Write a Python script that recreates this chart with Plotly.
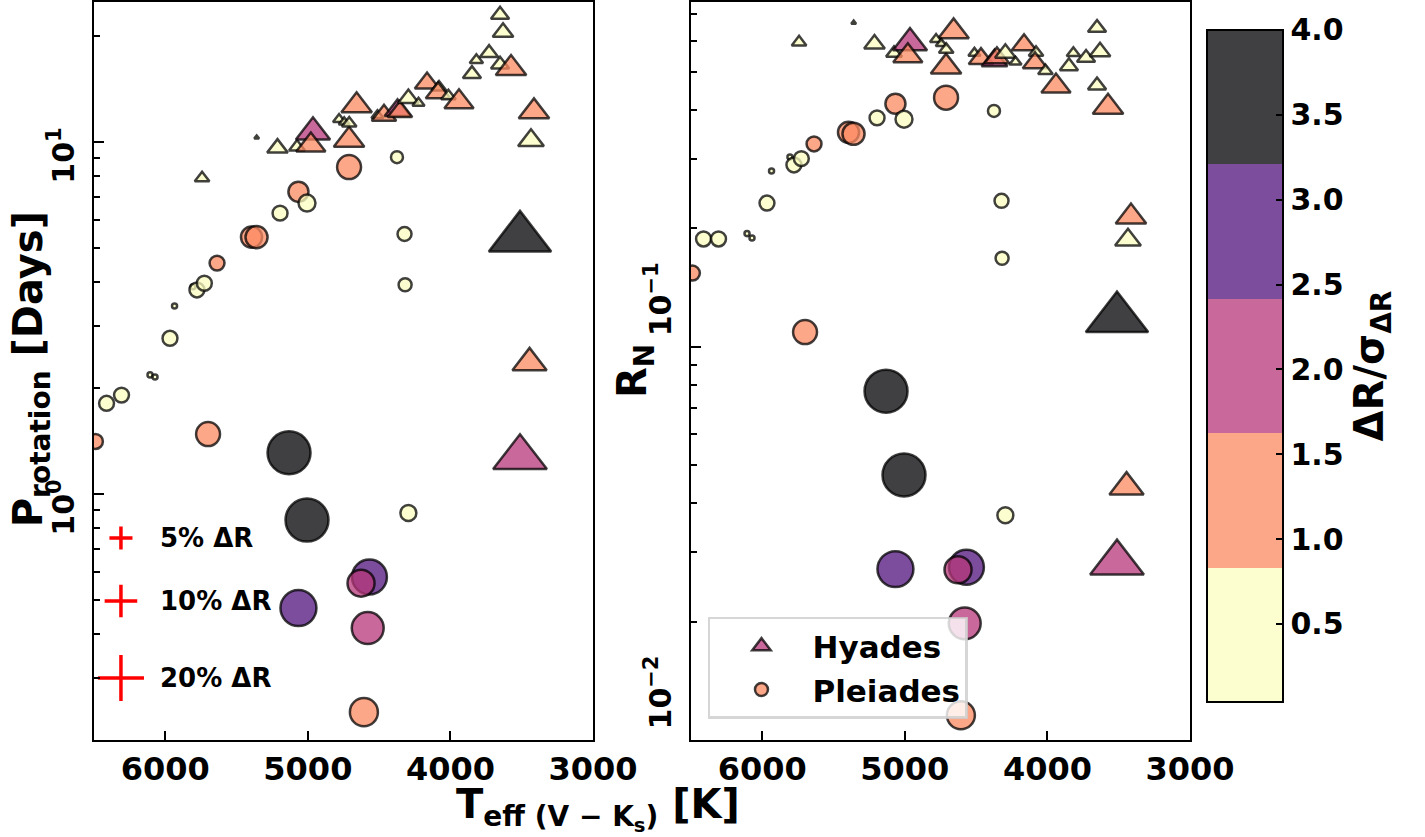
import numpy as np
import plotly.graph_objects as go

# ---------------- data ----------------
# Hyades (triangles)
hy_teff = [5742, 5359, 5213, 5076, 4964, 4979, 4711, 4658, 4781, 4745, 4710, 4512, 4466, 4371,
           4354, 4295, 4224, 4164, 4080, 4087, 4014, 3940, 3849, 3818, 3729, 3652, 3631, 3652,
           3575, 3414, 3435, 3512, 3445, 3512]
hy_prot = [7.90, 10.3, 9.61, 9.68, 10.67, 9.80, 10.13, 12.7, 11.6, 11.4, 11.3, 11.9, 11.9, 12.3,
           12.2, 13.3, 12.9, 14.7, 14.3, 13.8, 13.5, 13.0, 15.6, 17.1, 17.9, 23.0, 20.5, 16.6,
           16.2, 12.2, 10.1, 5.34, 2.36, 1.27]
hy_ross = [0.595, 0.667, 0.589, 0.558, 0.593, 0.549, 0.515, 0.633, 0.605, 0.59, 0.57, 0.558, 0.54, 0.534,
           0.543, 0.558, 0.53, 0.586, 0.56, 0.527, 0.503, 0.460, 0.517, 0.558, 0.543, 0.647, 0.563, 0.462,
           0.407, 0.214, 0.187, 0.118, 0.0440, 0.0282]
hy_dr = [1.36, 0.15, 2.7, 1.6, 7.4, 5.4, 5.9, 5.9, 0.94, 0.76, 1.36, 0.94, 3.8, 4.2,
         3.8, 2.7, 0.94, 3.8, 1.36, 3.8, 1.36, 5.4, 2.1, 1.14, 2.1, 2.1, 2.7, 2.1,
         5.9, 5.9, 4.2, 24.5, 7.4, 18.2]
hy_sig = [0.42, 0.35, 0.45, 0.38, 2.05, 1.30, 1.20, 1.25, 0.40, 0.35, 0.45, 0.40, 1.20, 2.00,
          1.25, 0.40, 0.35, 1.20, 0.40, 1.30, 0.45, 1.20, 0.40, 0.35, 0.45, 0.40, 0.40, 0.45,
          1.20, 1.25, 0.40, 4.00, 1.30, 2.10]

# Pleiades (circles)
pl_teff = [6490, 6412, 6307, 6107, 6072, 5967, 5935, 5806, 5778, 5726, 5637, 5395, 5360, 5195,
           5066, 5006, 4711, 4375, 4322, 4318, 4295, 5700, 5132, 5006, 5066, 4568, 4627, 4580, 4607]
pl_prot = [1.41, 1.81, 1.91, 2.18, 2.15, 2.77, 3.42, 3.88, 3.80, 3.97, 4.53, 5.37, 5.37, 6.28,
           7.22, 6.71, 8.49, 9.06, 5.48, 3.93, 0.883, 1.48, 1.31, 0.843, 0.474, 0.581, 0.558, 0.416, 0.240]
pl_ross = [0.154, 0.188, 0.188, 0.194, 0.189, 0.232, 0.280, 0.304, 0.290, 0.301, 0.328, 0.351, 0.348, 0.382,
           0.415, 0.379, 0.430, 0.398, 0.235, 0.168, 0.0373, 0.109, 0.0771, 0.0472, 0.0272, 0.0275, 0.0271,
           0.0198, 0.01156]
pl_dr = [2.1, 2.1, 2.1, 0.24, 0.24, 2.1, 0.24, 0.24, 2.1, 2.1, 2.1, 4.2, 4.6, 2.1,
         3.8, 2.7, 5.4, 1.36, 1.85, 1.6, 2.4, 5.4, 17.4, 17.4, 12.2, 11.5, 6.9, 9.6, 7.4]
pl_sig = [1.20, 0.40, 0.35, 0.30, 0.30, 0.40, 0.30, 0.30, 0.35, 0.40, 1.20, 1.30, 1.30, 0.40,
          1.20, 0.40, 1.20, 0.40, 0.40, 0.40, 0.40, 1.20, 3.70, 3.90, 2.80, 2.90, 2.00, 2.10, 1.30]

key_pcts = [5, 10, 20]
key_labels = ["5% ΔR", "10% ΔR", "20% ΔR"]

cbar_ticks = [0.5, 1.0, 1.5, 2.0, 2.5, 3.0, 3.5, 4.0]
sig_min, sig_max = 0.04, 4.0

# ---------------- styling ----------------
FONT = "DejaVu Sans"
bins = ["rgba(252,253,191,0.75)", "rgba(252,137,97,0.75)", "rgba(183,55,121,0.75)",
        "rgba(81,18,124,0.75)", "rgba(0,0,4,0.75)"]
cscale = []
for i, c in enumerate(bins):
    cscale.append([i / 5, c])
    cscale.append([(i + 1) / 5, c])

SIZE_K = 10.3  # px diameter per sqrt(%)
edge = dict(color="rgba(0,0,0,0.75)", width=2.5)


def sizes(dr, fac=1.0):
    return [fac * SIZE_K * np.sqrt(v) for v in dr]


fig = go.Figure()

for xa, ya, hy_y, pl_y in [("x", "y", hy_prot, pl_prot), ("x2", "y2", hy_ross, pl_ross)]:
    fig.add_trace(go.Scatter(
        x=hy_teff, y=hy_y, mode="markers", xaxis=xa, yaxis=ya, showlegend=False,
        marker=dict(symbol="triangle-up", size=sizes(hy_dr, 1.06), color=hy_sig, opacity=1,
                    coloraxis="coloraxis", line=edge)))
    fig.add_trace(go.Scatter(
        x=pl_teff, y=pl_y, mode="markers", xaxis=xa, yaxis=ya, showlegend=False,
        marker=dict(symbol="circle", size=sizes(pl_dr), color=pl_sig, opacity=1,
                    coloraxis="coloraxis", line=edge)))

# legend entries
fig.add_trace(go.Scatter(x=[None], y=[None], mode="markers", name="Hyades", xaxis="x2", yaxis="y2",
                         marker=dict(symbol="triangle-up", size=16, color=bins[2], opacity=1, line=edge)))
fig.add_trace(go.Scatter(x=[None], y=[None], mode="markers", name="Pleiades", xaxis="x2", yaxis="y2",
                         marker=dict(symbol="circle", size=13, color=bins[1], opacity=1, line=edge)))

# size key (left panel), in a 0-1 overlay frame
key_x = 0.054
key_y = [0.2737, 0.1883, 0.084]
fig.add_trace(go.Scatter(
    x=[key_x] * len(key_pcts), y=key_y, mode="markers", xaxis="x3", yaxis="y3", showlegend=False,
    marker=dict(symbol="cross-thin", size=[SIZE_K * np.sqrt(p) / 1.4 for p in key_pcts], opacity=1,
                line=dict(color="red", width=3.5), color="red")))

annotations = []
for lab, yy in zip(key_labels, key_y):
    annotations.append(dict(text=lab, x=0.128, y=yy, xref="x3", yref="y3", xanchor="left",
                            yanchor="middle", showarrow=False,
                            font=dict(family=FONT, size=26, color="black", weight="bold")))

# axis titles
title_font = dict(family=FONT, size=40, color="black", weight="bold")
annotations.append(dict(text="T<sub>eff (V − K<sub>s</sub>)</sub> [K]", x=0.46, y=-0.094,
                        xref="paper", yref="paper", xanchor="center", yanchor="middle",
                        showarrow=False, font=title_font))
annotations.append(dict(text="P<sub>rotation</sub> [Days]", x=-0.058, y=0.503, xref="paper",
                        yref="paper", xanchor="center", yanchor="middle", textangle=-90,
                        showarrow=False, font=title_font))
annotations.append(dict(text="R<sub>N</sub>", x=0.4936, y=0.50, xref="paper", yref="paper",
                        xanchor="center", yanchor="middle", textangle=-90,
                        showarrow=False, font=title_font))

tick_font = dict(family=FONT, size=30, color="black", weight="bold")
xtick_font = dict(family=FONT, size=32, color="black", weight="bold")

common_x = dict(range=[6500, 3000], tickvals=[6000, 5000, 4000, 3000], ticks="inside", ticklen=9,
                tickwidth=2, tickcolor="black", showline=True, linewidth=2, linecolor="black",
                mirror=True, showgrid=False, zeroline=False, tickfont=xtick_font)

def yax(lo, hi, major, major_txt, minor_vals, shift):
    return dict(type="log", range=[np.log10(lo), np.log10(hi)], tickmode="array", tickvals=major,
                ticktext=major_txt, tickangle=-90, ticks="inside", ticklen=10, tickwidth=2,
                tickcolor="black", showline=True, linewidth=2, linecolor="black", mirror=True,
                showgrid=False, zeroline=False, tickfont=tick_font, ticklabelshift=shift,
                ticklabelstandoff=6,
                minor=dict(tickmode="array", tickvals=minor_vals, ticks="inside", ticklen=6,
                           tickwidth=1.5, tickcolor="black", showgrid=False))

left_minor = [0.2, 0.3, 0.4, 0.5, 0.6, 0.7, 0.8, 0.9, 2, 3, 4, 5, 6, 7, 8, 9, 20]
right_minor = [0.02, 0.03, 0.04, 0.05, 0.06, 0.07, 0.08, 0.09, 0.2, 0.3, 0.4, 0.5, 0.6, 0.7]

fig.update_layout(
    width=1425, height=837,
    margin=dict(l=94, r=235, t=2, b=97, autoexpand=False),
    paper_bgcolor="white", plot_bgcolor="white",
    xaxis=dict(domain=[0, 0.4553], anchor="y", **common_x),
    xaxis2=dict(domain=[0.5447, 1], anchor="y2", **common_x),
    yaxis=dict(anchor="x", **yax(0.2, 25, [1, 10], ["10<sup>0</sup>", "10<sup>1</sup>"], left_minor, 18)),
    yaxis2=dict(anchor="x2", **yax(0.01, 0.753, [0.01, 0.1], ["10<sup>−2</sup>", "10<sup>−1</sup>"],
                                   right_minor, -43)),
    xaxis3=dict(overlaying="x", range=[0, 1], visible=False, anchor="y3"),
    yaxis3=dict(overlaying="y", range=[0, 1], visible=False, anchor="x3"),
    coloraxis=dict(
        colorscale=cscale, cmin=sig_min, cmax=sig_max,
        colorbar=dict(x=1.0155, xanchor="left", y=0.5068, yanchor="middle", len=0.9106,
                      lenmode="fraction", thickness=76, thicknessmode="pixels",
                      outlinewidth=2, outlinecolor="black", xpad=0, ypad=0,
                      ticks="inside", ticklen=8, tickwidth=2, tickcolor="black",
                      tickvals=cbar_ticks, ticktext=[f"{v:.1f}" for v in cbar_ticks],
                      tickfont=tick_font,
                      title=dict(text="ΔR/σ<sub>ΔR</sub>", side="right", font=title_font))),
    legend=dict(x=0.5602, y=0.1667, xanchor="left", yanchor="top", xref="paper", yref="paper",
                bgcolor="rgba(255,255,255,0.8)", bordercolor="rgba(204,204,204,0.8)", borderwidth=2.5,
                font=dict(family=FONT, size=31, color="black", weight="bold"),
                itemsizing="trace", itemwidth=92),
    annotations=annotations,
    showlegend=True,
)

fig.write_html("out.html")
